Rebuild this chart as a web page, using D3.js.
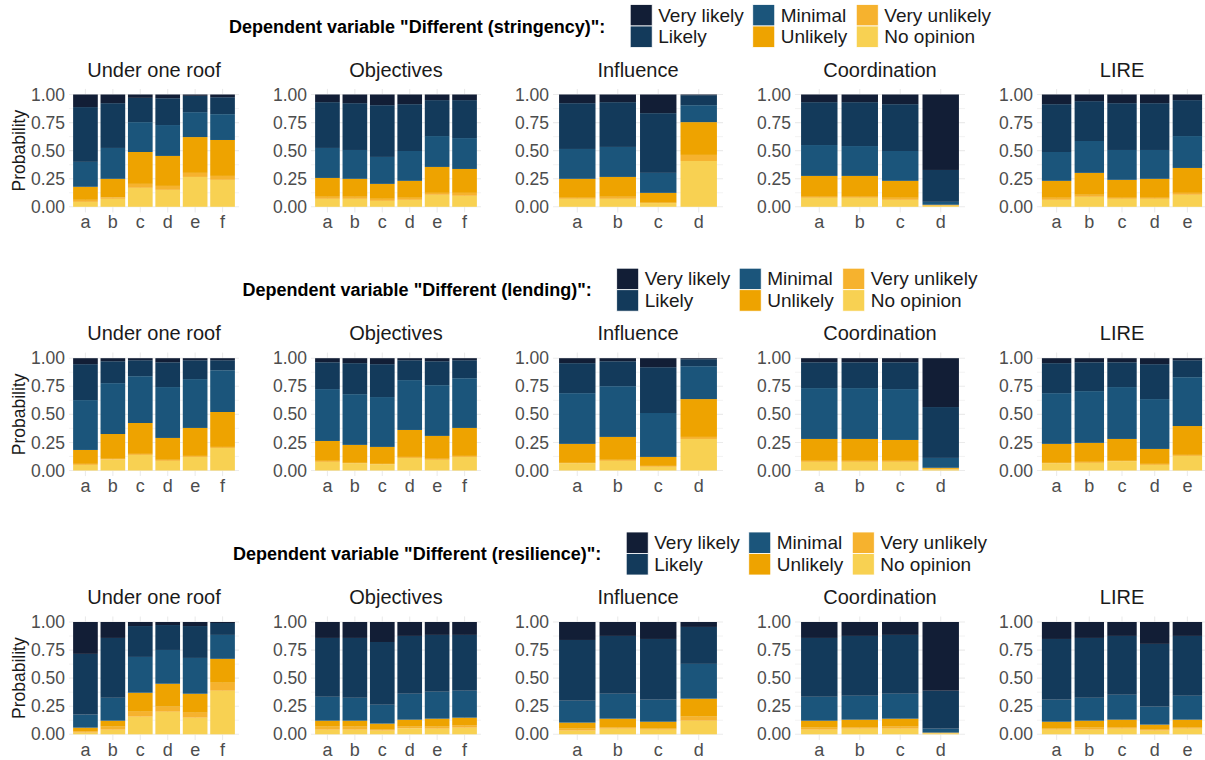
<!DOCTYPE html>
<html>
<head>
<meta charset="utf-8">
<script src="https://cdn.jsdelivr.net/npm/d3@7"></script>
<style>
  html, body { margin: 0; padding: 0; background: #ffffff; }
  svg { display: block; font-family: "Liberation Sans", Arial, sans-serif; }
</style>
</head>
<body>
<svg id="chart" width="1205" height="760"></svg>
<script>
// Response levels, listed from the top of each stacked bar to the bottom
const responseLevels = ["Very likely", "Likely", "Minimal", "Unlikely", "Very unlikely", "No opinion"];
const levelColors = ["#121e36", "#133a5b", "#1b557b", "#eea300", "#f6b22e", "#f8d152"];

// Facets and the categories shown in each
const facets = ["Under one roof", "Objectives", "Influence", "Coordination", "LIRE"];
const facetCategories = [
  ["a", "b", "c", "d", "e", "f"],
  ["a", "b", "c", "d", "e", "f"],
  ["a", "b", "c", "d"],
  ["a", "b", "c", "d"],
  ["a", "b", "c", "d", "e"]
];

// Dependent variables (one row of facets each)
const outcomes = ["Different (stringency)", "Different (lending)", "Different (resilience)"];

// Predicted cumulative probabilities for each bar:
// P(No opinion), P(<= Very unlikely), P(<= Unlikely), P(<= Minimal), P(<= Likely); remainder is "Very likely"
const cumStringency = [
  [[0.044, 0.062, 0.178, 0.400, 0.888], [0.071, 0.083, 0.249, 0.524, 0.923], [0.169, 0.204, 0.488, 0.754, 0.970],
   [0.151, 0.186, 0.453, 0.728, 0.967], [0.266, 0.302, 0.621, 0.843, 0.988], [0.240, 0.275, 0.595, 0.825, 0.976]],
  [[0.071, 0.089, 0.257, 0.524, 0.932], [0.071, 0.089, 0.249, 0.506, 0.923], [0.053, 0.071, 0.204, 0.444, 0.905],
   [0.062, 0.080, 0.231, 0.497, 0.914], [0.107, 0.124, 0.355, 0.630, 0.950], [0.098, 0.124, 0.337, 0.612, 0.950]],
  [[0.071, 0.080, 0.249, 0.515, 0.923], [0.071, 0.089, 0.266, 0.533, 0.932], [0.033, 0.036, 0.124, 0.302, 0.834],
   [0.408, 0.462, 0.754, 0.905, 0.994]],
  [[0.080, 0.089, 0.275, 0.550, 0.932], [0.080, 0.089, 0.275, 0.541, 0.932], [0.062, 0.080, 0.231, 0.497, 0.914],
   [0.009, 0.012, 0.018, 0.044, 0.328]],
  [[0.062, 0.080, 0.231, 0.488, 0.914], [0.089, 0.107, 0.302, 0.586, 0.941], [0.071, 0.080, 0.240, 0.506, 0.923],
   [0.071, 0.080, 0.249, 0.506, 0.923], [0.107, 0.124, 0.346, 0.630, 0.950]]
];

const cumLending = [
  [[0.050, 0.059, 0.183, 0.627, 0.947], [0.098, 0.104, 0.325, 0.778, 0.973], [0.139, 0.148, 0.423, 0.840, 0.982],
   [0.086, 0.095, 0.290, 0.743, 0.964], [0.121, 0.130, 0.379, 0.814, 0.982], [0.201, 0.210, 0.521, 0.893, 0.982]],
  [[0.077, 0.086, 0.263, 0.725, 0.964], [0.065, 0.068, 0.228, 0.680, 0.956], [0.056, 0.059, 0.210, 0.654, 0.947],
   [0.112, 0.121, 0.361, 0.805, 0.982], [0.095, 0.104, 0.308, 0.760, 0.973], [0.121, 0.130, 0.379, 0.822, 0.982]],
  [[0.065, 0.068, 0.237, 0.689, 0.956], [0.086, 0.095, 0.299, 0.751, 0.973], [0.033, 0.041, 0.121, 0.512, 0.920],
   [0.281, 0.299, 0.636, 0.929, 0.991]],
  [[0.077, 0.086, 0.281, 0.734, 0.964], [0.077, 0.086, 0.281, 0.734, 0.964], [0.077, 0.086, 0.272, 0.725, 0.964],
   [0.010, 0.015, 0.024, 0.112, 0.565]],
  [[0.065, 0.068, 0.237, 0.689, 0.956], [0.068, 0.077, 0.246, 0.707, 0.964], [0.083, 0.086, 0.281, 0.743, 0.964],
   [0.050, 0.059, 0.192, 0.636, 0.947], [0.130, 0.139, 0.396, 0.831, 0.982]]
];

const cumResilience = [
  [[0.015, 0.024, 0.059, 0.175, 0.716], [0.041, 0.068, 0.121, 0.325, 0.858], [0.157, 0.201, 0.370, 0.689, 0.964],
   [0.201, 0.246, 0.450, 0.751, 0.973], [0.148, 0.192, 0.361, 0.680, 0.964], [0.388, 0.459, 0.672, 0.885, 0.991]],
  [[0.041, 0.068, 0.121, 0.334, 0.858], [0.041, 0.068, 0.121, 0.325, 0.858], [0.033, 0.041, 0.095, 0.263, 0.822],
   [0.053, 0.068, 0.130, 0.361, 0.876], [0.050, 0.068, 0.139, 0.379, 0.885], [0.059, 0.077, 0.148, 0.388, 0.885]],
  [[0.033, 0.050, 0.104, 0.299, 0.840], [0.050, 0.059, 0.139, 0.361, 0.876], [0.041, 0.050, 0.112, 0.308, 0.849],
   [0.121, 0.157, 0.317, 0.627, 0.956]],
  [[0.041, 0.059, 0.121, 0.334, 0.858], [0.050, 0.059, 0.130, 0.343, 0.876], [0.050, 0.068, 0.139, 0.361, 0.885],
   [0.009, 0.012, 0.015, 0.050, 0.388]],
  [[0.041, 0.050, 0.112, 0.308, 0.849], [0.041, 0.059, 0.121, 0.325, 0.858], [0.050, 0.059, 0.130, 0.352, 0.876],
   [0.033, 0.041, 0.086, 0.246, 0.805], [0.050, 0.059, 0.130, 0.343, 0.876]]
];

const yTicks = [0, 0.25, 0.5, 0.75, 1];
const yMinorTicks = [0.125, 0.375, 0.625, 0.875];

// ---- layout ----
const svg = d3.select("#chart");
const rowData = [cumStringency, cumLending, cumResilience];
const rowTop = [94.5, 358.2, 622];      // pixel position of probability 1.00 in each row
const panelH = 112.3;                   // pixel span of 0..1
const panelLeft0 = 69, panelStep = 242, panelW = 170;
const gridColor = "#ebebeb";
const textDark = "#1a1a1a", textGrey = "#4d4d4d";
const fontStack = "'Liberation Sans', Arial, sans-serif";

// bottom-to-top order of segments within each bar
const stackColors = levelColors.slice().reverse();

rowData.forEach((cumRows, r) => {
  const y = d3.scaleLinear().domain([0, 1]).range([rowTop[r] + panelH, rowTop[r]]);
  const yExt = [y(-0.05), y(1.05)];
  const g = svg.append("g");

  facets.forEach((facet, i) => {
    const left = panelLeft0 + i * panelStep;
    const x = d3.scaleBand()
      .domain(facetCategories[i])
      .range([left, left + panelW])
      .paddingInner(0.1)
      .paddingOuter(0.15);
    const p = g.append("g");

    // grid
    p.selectAll("line.minor").data(yMinorTicks).join("line")
      .attr("x1", left).attr("x2", left + panelW)
      .attr("y1", d => y(d)).attr("y2", d => y(d))
      .attr("stroke", gridColor).attr("stroke-width", 0.6);
    p.selectAll("line.major").data(yTicks).join("line")
      .attr("x1", left).attr("x2", left + panelW)
      .attr("y1", d => y(d)).attr("y2", d => y(d))
      .attr("stroke", gridColor).attr("stroke-width", 1.1);
    p.selectAll("line.vert").data(facetCategories[i]).join("line")
      .attr("x1", d => x(d) + x.bandwidth() / 2).attr("x2", d => x(d) + x.bandwidth() / 2)
      .attr("y1", yExt[0]).attr("y2", yExt[1])
      .attr("stroke", gridColor).attr("stroke-width", 1.1);

    // stacked bars
    const segs = [];
    facetCategories[i].forEach((cat, j) => {
      const bounds = [0, ...cumRows[i][j], 1];
      for (let k = 0; k < 6; k++) {
        segs.push({ cat, k, y0: bounds[k], y1: bounds[k + 1] });
      }
    });
    p.selectAll("rect.seg").data(segs).join("rect")
      .attr("x", d => x(d.cat))
      .attr("width", x.bandwidth())
      .attr("y", d => y(d.y1))
      .attr("height", d => Math.max(0, y(d.y0) - y(d.y1)))
      .attr("fill", d => stackColors[d.k]);

    // axes
    const ya = d3.axisLeft(y).tickValues(yTicks).tickFormat(d3.format(".2f")).tickSize(0).tickPadding(4);
    const yg = p.append("g").attr("transform", `translate(${left},0)`).call(ya);
    yg.select(".domain").remove();
    yg.selectAll("text").attr("fill", textGrey).style("font-size", "17.5px").style("font-family", fontStack);

    const xa = d3.axisBottom(x).tickSize(0).tickPadding(3);
    const xg = p.append("g").attr("transform", `translate(0,${yExt[0]})`).call(xa);
    xg.select(".domain").remove();
    xg.selectAll("text").attr("fill", textGrey).style("font-size", "18px").style("font-family", fontStack);

    // facet strip title
    p.append("text")
      .attr("x", left + panelW / 2).attr("y", rowTop[r] - 18)
      .attr("text-anchor", "middle")
      .attr("fill", textDark)
      .style("font-size", "20px")
      .text(facet);
  });

  // y axis title
  g.append("text")
    .attr("transform", `translate(25,${rowTop[r] + panelH / 2}) rotate(-90)`)
    .attr("text-anchor", "middle")
    .attr("fill", textDark)
    .style("font-size", "17.5px")
    .text("Probability");

  // legend
  const leg = g.append("g");
  const cy = rowTop[r] - 68.5;
  const keyW = 22, keyH = 21.5;
  const title = leg.append("text")
    .attr("y", cy + 6.5)
    .attr("fill", "#000")
    .style("font-size", "18px")
    .style("font-weight", "bold")
    .text(`Dependent variable "${outcomes[r]}":`);
  const titleW = title.node().getComputedTextLength();

  const cols = [[0, 1], [2, 3], [4, 5]];
  let cx = titleW + 25;
  cols.forEach(col => {
    let maxW = 0;
    col.forEach((li, row) => {
      const ky = cy - keyH + row * keyH;
      leg.append("rect")
        .attr("x", cx).attr("y", ky)
        .attr("width", keyW).attr("height", keyH)
        .attr("fill", levelColors[li])
        .attr("stroke", "#ffffff").attr("stroke-width", 0.8);
      const t = leg.append("text")
        .attr("x", cx + keyW + 6).attr("y", ky + keyH / 2 + 6.5)
        .attr("fill", textDark)
        .style("font-size", "19px")
        .text(responseLevels[li]);
      maxW = Math.max(maxW, t.node().getComputedTextLength());
    });
    cx += keyW + 6 + maxW + 9;
  });
  const totalW = cx - 9;
  leg.attr("transform", `translate(${610 - totalW / 2},0)`);
});
</script>
</body>
</html>
